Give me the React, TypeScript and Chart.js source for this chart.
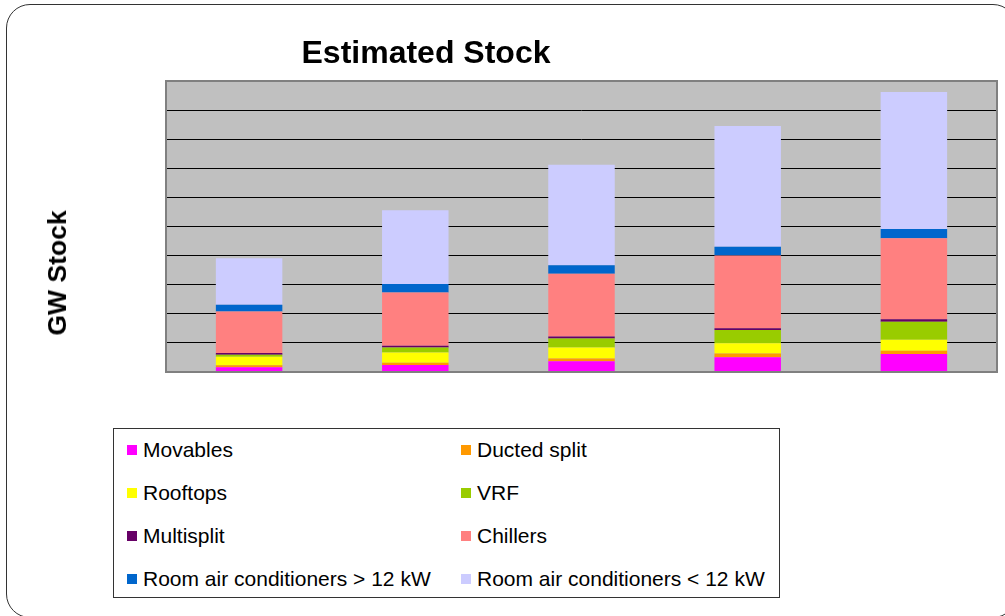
import React, { useEffect, useRef } from "react";
import { Chart, registerables } from "chart.js";

Chart.register(...registerables);

// ---- Data (units: one gridline step) ----
const categories = ["1", "2", "3", "4", "5"];
const movables = [0.16, 0.24, 0.37, 0.51, 0.62];
const ductedSplit = [0.07, 0.08, 0.09, 0.13, 0.11];
const rooftops = [0.29, 0.35, 0.38, 0.35, 0.38];
const vrf = [0.07, 0.17, 0.31, 0.45, 0.62];
const multisplit = [0.06, 0.06, 0.07, 0.06, 0.08];
const chillers = [1.43, 1.83, 2.16, 2.5, 2.79];
const racAbove12 = [0.23, 0.29, 0.29, 0.3, 0.31];
const racBelow12 = [1.6, 2.54, 3.45, 4.15, 4.71];

const seriesNames = [
  "Movables",
  "Ducted split",
  "Rooftops",
  "VRF",
  "Multisplit",
  "Chillers",
  "Room air conditioners > 12 kW",
  "Room air conditioners < 12 kW",
];
const seriesColors = [
  "#FF00FF",
  "#FF9900",
  "#FFFF00",
  "#99CC00",
  "#660066",
  "#FF8080",
  "#0066CC",
  "#CCCCFF",
];
const seriesValues = [
  movables,
  ductedSplit,
  rooftops,
  vrf,
  multisplit,
  chillers,
  racAbove12,
  racBelow12,
];

const titleText = "Estimated Stock";
const yAxisTitle = "GW Stock";
const yMax = 10;

const plotBackground = {
  id: "plotBackground",
  beforeDraw(chart: any) {
    const { ctx, chartArea } = chart;
    const { left, top, width, height } = chartArea;
    ctx.save();
    ctx.fillStyle = "#C0C0C0";
    ctx.fillRect(left, top, width, height);
    ctx.restore();
  },
  afterDatasetsDraw(chart: any) {
    const { ctx, chartArea } = chart;
    const { left, top, width, height } = chartArea;
    ctx.save();
    ctx.strokeStyle = "#808080";
    ctx.lineWidth = 2;
    ctx.strokeRect(left, top, width, height);
    ctx.restore();
  },
};

export default function App() {
  const canvasRef = useRef<HTMLCanvasElement | null>(null);

  useEffect(() => {
    if (!canvasRef.current) return;
    const chart = new Chart(canvasRef.current, {
      type: "bar",
      data: {
        labels: categories,
        datasets: seriesNames.map((name, i) => ({
          label: name,
          data: seriesValues[i],
          backgroundColor: seriesColors[i],
          borderWidth: 0,
          barPercentage: 0.4,
          categoryPercentage: 1,
        })),
      },
      options: {
        animation: false,
        responsive: false,
        devicePixelRatio: 1,
        layout: { padding: { left: 166, top: 81, right: 8, bottom: 244 } },
        plugins: {
          legend: { display: false },
          title: { display: false },
          tooltip: { enabled: false },
        },
        scales: {
          x: {
            stacked: true,
            grid: { display: false, drawTicks: false },
            border: { display: false },
            ticks: { display: false },
            afterFit: (s: any) => {
              s.height = 0;
            },
          },
          y: {
            stacked: true,
            min: 0,
            max: yMax,
            ticks: { display: false, stepSize: 1 },
            grid: { color: "#000000", lineWidth: 1, drawTicks: false },
            border: { display: false },
            afterFit: (s: any) => {
              s.width = 0;
            },
          },
        },
      },
      plugins: [plotBackground],
    } as any);
    return () => chart.destroy();
  }, []);

  const font = '"Liberation Sans", Arial, sans-serif';
  const rows = [0, 1, 2, 3];

  return (
    <div
      style={{
        position: "fixed",
        left: 0,
        top: 0,
        width: 1005,
        height: 616,
        overflow: "hidden",
        background: "#FFFFFF",
        fontFamily: font,
      }}
    >
      <div
        style={{
          position: "absolute",
          left: 6,
          top: 4,
          width: 1011,
          height: 614,
          border: "1px solid #333333",
          borderRadius: 24,
          boxSizing: "border-box",
        }}
      />
      <canvas
        ref={canvasRef}
        width={1005}
        height={616}
        style={{ position: "absolute", left: 0, top: 0, width: 1005, height: 616 }}
      />
      <div
        style={{
          position: "absolute",
          left: 0,
          top: 36,
          width: 852,
          textAlign: "center",
          fontSize: 32,
          lineHeight: "32px",
          fontWeight: "bold",
          color: "#000",
          whiteSpace: "nowrap",
        }}
      >
        {titleText}
      </div>
      <div
        style={{
          position: "absolute",
          left: 57,
          top: 273,
          transform: "translate(-50%, -50%) rotate(-90deg)",
          fontSize: 26.5,
          lineHeight: "26px",
          fontWeight: "bold",
          color: "#000",
          whiteSpace: "nowrap",
        }}
      >
        {yAxisTitle}
      </div>
      <div
        style={{
          position: "absolute",
          left: 113,
          top: 428,
          width: 667,
          height: 170,
          border: "1px solid #333333",
          boxSizing: "border-box",
          background: "#FFFFFF",
        }}
      />
      {rows.map((r) =>
        [0, 1].map((c) => {
          const idx = r * 2 + c;
          const x = c === 0 ? 127 : 461;
          const top = 439 + r * 43;
          return (
            <div key={idx}>
              <div
                style={{
                  position: "absolute",
                  left: x,
                  top: top + 6,
                  width: 10,
                  height: 10,
                  background: seriesColors[idx],
                }}
              />
              <div
                style={{
                  position: "absolute",
                  left: x + 16,
                  top: top,
                  fontSize: 21,
                  lineHeight: "21px",
                  color: "#000",
                  whiteSpace: "nowrap",
                }}
              >
                {seriesNames[idx]}
              </div>
            </div>
          );
        })
      )}
    </div>
  );
}
